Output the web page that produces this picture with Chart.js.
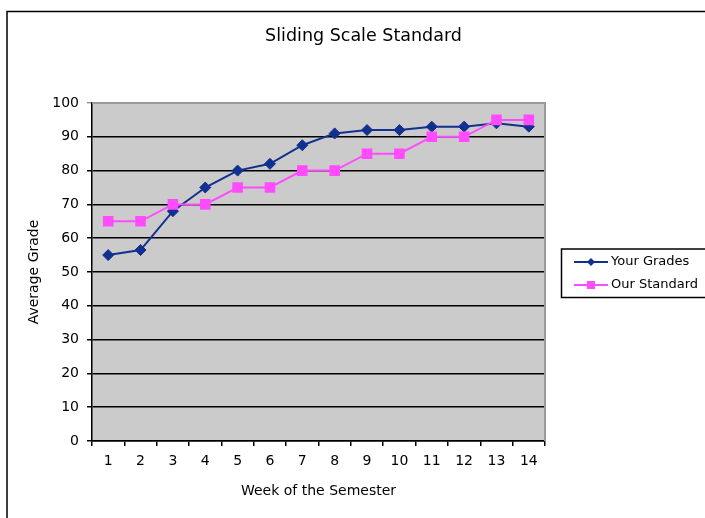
<!DOCTYPE html>
<html>
<head>
<meta charset="utf-8">
<script src="https://cdn.jsdelivr.net/npm/chart.js@4"></script>
<style>
  html, body { margin: 0; padding: 0; background: #fff; }
  #wrap { width: 705px; height: 518px; position: relative; }
</style>
</head>
<body>
<div id="wrap"><canvas id="grafico"></canvas></div>
<script>
// dados
const titulo = "Sliding Scale Standard";
const semanas = ["1", "2", "3", "4", "5", "6", "7", "8", "9", "10", "11", "12", "13", "14"];
const suasNotas = [55, 56.5, 68, 75, 80, 82, 87.5, 91, 92, 92, 93, 93, 94, 93];
const nossoPadrao = [65, 65, 70, 70, 75, 75, 80, 80, 85, 85, 90, 90, 95, 95];
const nomesSeries = ["Your Grades", "Our Standard"];
const eixoY = { min: 0, max: 100, passo: 10, titulo: "Average Grade" };
const eixoXTitulo = "Week of the Semester";

const fonte = "'DejaVu Sans', sans-serif";
const azul = "#12308f";
const rosa = "#ff4cff";

// fundo branco, moldura e área cinza do gráfico
const fundoPlugin = {
    id: "fundo",
    beforeDraw(chart) {
        const { ctx, chartArea: a } = chart;
        ctx.save();
        ctx.fillStyle = "#fff";
        ctx.fillRect(0, 0, chart.width, chart.height);
        ctx.strokeStyle = "#000";
        ctx.lineWidth = 1.5;
        ctx.strokeRect(7, 11.5, 720, 520);
        ctx.fillStyle = "#cbcbcb";
        ctx.fillRect(a.left, a.top, a.right - a.left, a.bottom - a.top);
        ctx.restore();
    },
    beforeDatasetsDraw(chart) {
        const { ctx, chartArea: a } = chart;
        ctx.save();
        ctx.strokeStyle = "#9a9a9a";
        ctx.lineWidth = 2;
        ctx.beginPath();
        ctx.moveTo(a.left, a.top);
        ctx.lineTo(a.right, a.top);
        ctx.lineTo(a.right, a.bottom);
        ctx.stroke();
        ctx.restore();
    },
};

// legenda desenhada à mão (linha + marcador, com caixa)
const legendaPlugin = {
    id: "legendaCustom",
    afterDraw(chart) {
        const { ctx } = chart;
        ctx.save();
        ctx.strokeStyle = "#000";
        ctx.lineWidth = 1.5;
        ctx.strokeRect(561.5, 249, 160, 48.5);
        const linhas = [262, 285];
        chart.data.datasets.forEach((ds, i) => {
            const y = linhas[i];
            ctx.strokeStyle = ds.borderColor;
            ctx.lineWidth = 2;
            ctx.beginPath();
            ctx.moveTo(574, y);
            ctx.lineTo(608, y);
            ctx.stroke();
            ctx.fillStyle = ds.pointBackgroundColor;
            ctx.beginPath();
            if (i === 0) {
                ctx.moveTo(591, y - 4); ctx.lineTo(595, y); ctx.lineTo(591, y + 4); ctx.lineTo(587, y);
            } else {
                ctx.rect(587, y - 4, 8, 8);
            }
            ctx.closePath();
            ctx.fill();
            ctx.fillStyle = "#000";
            ctx.font = "13px " + fonte;
            ctx.textBaseline = "middle";
            ctx.fillText(ds.label, 611, y);
        });
        ctx.restore();
    },
};

const ctx = document.getElementById("grafico").getContext("2d");
new Chart(ctx, {
    type: "line",
    data: {
        labels: semanas,
        datasets: [
            {
                label: nomesSeries[0],
                data: suasNotas,
                order: 1, // fica por baixo da série rosa
                borderColor: azul,
                backgroundColor: azul,
                borderWidth: 2,
                pointStyle: "rectRot",
                pointRadius: 5.5,
                pointBackgroundColor: azul,
                pointBorderColor: azul,
                pointBorderWidth: 1,
                tension: 0,
            },
            {
                label: nomesSeries[1],
                data: nossoPadrao,
                order: 0,
                borderColor: rosa,
                backgroundColor: rosa,
                borderWidth: 2,
                pointStyle: "rect",
                pointRadius: 7.5,
                pointBackgroundColor: rosa,
                pointBorderColor: rosa,
                pointBorderWidth: 0,
                tension: 0,
            },
        ],
    },
    options: {
        responsive: true,
        maintainAspectRatio: false,
        animation: false,
        layout: { padding: { left: 22, right: 0, top: 0, bottom: 14 } },
        plugins: {
            legend: { display: false },
            tooltip: { enabled: false },
            title: {
                display: true,
                text: titulo,
                color: "#000",
                font: { family: fonte, size: 17.5, weight: "normal" },
                padding: { top: 26, bottom: 56 },
            },
        },
        scales: {
            x: {
                offset: true,
                afterFit: (s) => { s.height = 63; },
                grid: {
                    offset: true,
                    drawOnChartArea: false,
                    drawTicks: true,
                    tickLength: 5,
                    color: "#000",
                    lineWidth: 1.5,
                },
                border: { display: true, color: "#000", width: 1.5 },
                ticks: {
                    color: "#000",
                    padding: 7,
                    font: { family: fonte, size: 14 },
                    maxRotation: 0,
                    autoSkip: false,
                },
                title: {
                    display: true,
                    text: eixoXTitulo,
                    color: "#000",
                    font: { family: fonte, size: 14 },
                    padding: { top: 4, bottom: 4 },
                },
            },
            y: {
                min: eixoY.min,
                max: eixoY.max,
                afterFit: (s) => { s.width = 70; },
                grid: {
                    drawTicks: true,
                    tickLength: 5,
                    color: (c) => (c.tick && c.tick.value === eixoY.max ? "#9a9a9a" : "#000"),
                    lineWidth: 1.5,
                },
                border: { display: true, color: "#000", width: 1.5 },
                ticks: {
                    stepSize: eixoY.passo,
                    color: "#000",
                    padding: 8,
                    font: { family: fonte, size: 14 },
                },
                title: {
                    display: true,
                    text: eixoY.titulo,
                    color: "#000",
                    font: { family: fonte, size: 14 },
                    padding: { top: 4, bottom: 4 },
                },
            },
            // eixo vazio só para reservar o espaço da legenda à direita
            espaco: {
                type: "linear",
                position: "right",
                display: true,
                afterFit: (s) => { s.width = 160; },
                grid: { display: false },
                border: { display: false },
                ticks: { display: false },
            },
        },
    },
    plugins: [fundoPlugin, legendaPlugin],
});
</script>
</body>
</html>
